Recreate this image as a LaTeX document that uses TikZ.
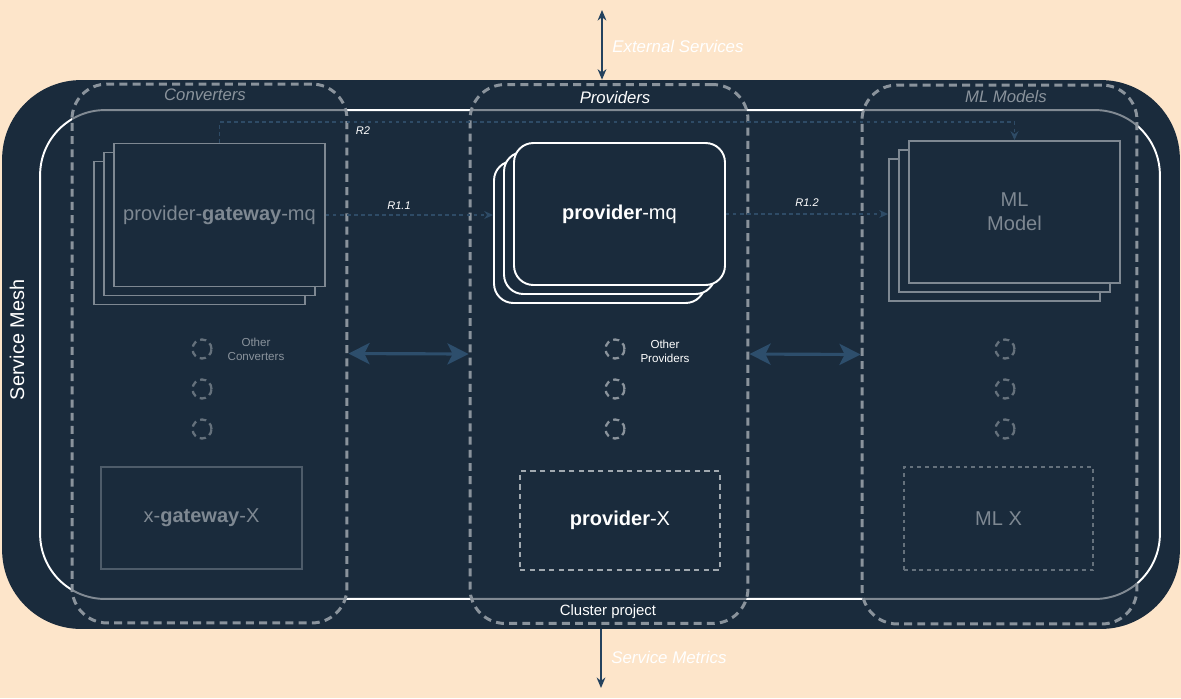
\documentclass[tikz,border=0pt]{standalone}
\usepackage{fontspec}
\setmainfont{Liberation Sans}
\usetikzlibrary{arrows.meta,positioning}
\definecolor{peach}{HTML}{FDE5CA}
\definecolor{navy}{HTML}{1A2B3C}
\definecolor{dashgrey}{HTML}{8A939C}
\definecolor{boxgrey}{HTML}{7E8892}
\definecolor{darkgrey}{HTML}{4E5C6A}
\definecolor{dimgrey}{HTML}{65717C}
\definecolor{arrowblue}{HTML}{2D4E6C}
\definecolor{linkblue}{HTML}{2E4B66}
\definecolor{extblue}{HTML}{24425E}

\begin{document}
\begin{tikzpicture}[x=0.02cm,y=-0.02cm,
  column/.style={draw=dashgrey,line width=1.7pt,dash pattern=on 4.5pt off 3pt,rounded corners=20pt,fill=navy,fill opacity=0.55,minimum width=5.5cm,minimum height=10.78cm,inner sep=0pt},
  stack/.style={draw=boxgrey,line width=1.1pt,fill=navy,minimum width=4.22cm,minimum height=2.86cm,inner sep=0pt,text=boxgrey,align=center,font=\fontsize{11.4}{13.5}\selectfont},
  pstack/.style={stack,draw=white,text=white,rounded corners=11pt,minimum height=2.84cm},
  xbox/.style={fill=navy,line width=1pt,inner sep=0pt,text=boxgrey,font=\fontsize{11.4}{13.5}\selectfont},
  circ/.style={circle,draw=#1,line width=1.3pt,dash pattern=on 3.5pt off 2.5pt,minimum size=0.38cm,inner sep=0pt},
  rlink/.style={draw=linkblue,line width=0.7pt,dash pattern=on 2pt off 2pt,-{Stealth[length=5pt,width=4.5pt]}},
  rlabel/.style={text=white,inner sep=0pt,font=\fontsize{6.3}{7}\selectfont\itshape},
  biarrow/.style={draw=arrowblue,line width=1.8pt,{Stealth[length=12pt,width=12pt,inset=3pt]}-{Stealth[length=12pt,width=12pt,inset=3pt]}},
  extarrow/.style={draw=extblue,line width=0.9pt},
  title/.style={inner sep=0pt,font=\fontsize{9.5}{11}\selectfont\itshape}
]
\useasboundingbox (0,0) rectangle (1181,698);
\fill[peach] (0,0) rectangle (1181,698);

% service mesh and cluster
\node[fill=navy,rounded corners=45pt,minimum width=23.56cm,minimum height=10.98cm,inner sep=0pt] (mesh) at (591,354.5) {};
\node[text=white,rotate=90,font=\fontsize{11.3}{13}\selectfont] (meshlabel) at (17,340) {Service Mesh};
\node[draw=white,line width=1.1pt,rounded corners=37pt,minimum width=22.4cm,minimum height=9.78cm,inner sep=0pt] (cluster) at (600,354.5) {};

% columns
\node[column] (conv) at (209.5,353.5) {};
\node[column,minimum width=5.56cm] (prov) at (609,354) {};
\node[column] (mlm) at (999.5,354.5) {};
\node[title,text=dashgrey] at (205,95) {Converters};
\node[title,text=white] at (615,98) {Providers};
\node[title,text=dashgrey] at (1006,97) {ML Models};
\node[text=white,inner sep=0pt,font=\fontsize{8.5}{10}\selectfont] (clusterlabel) at (608,612) {Cluster project};

% stacks and links
\coordinate (rtop) at (0,122);
\foreach \i in {2,1}
  \node[stack] (gw\i) at (219.5-10*\i,215+9*\i) {};
\node[stack] (gw) at (219.5,215) {provider-\textbf{gateway}-mq};
\foreach \i in {2,1}
  \node[pstack] (pmq\i) at (619.5-10*\i,214+9*\i) {};
\foreach \i in {2,1}
  \node[stack,minimum height=2.84cm] (ml\i) at (1014.5-10*\i,212+9*\i) {};
\draw[rlink] (gw.east) -- (gw.east -| pmq2.west);
\node[pstack] (pmq) at (619.5,214) {\textbf{provider}-mq};
\node[stack,minimum height=2.84cm] (ml) at (1014.5,212) {ML\\Model};
\draw[rlink] (gw.north) -- (gw.north |- rtop) -| (ml.north);
\draw[rlink] (pmq.east) -- (pmq.east -| ml2.west);
\node[rlabel] (r2) at (363,131) {R2};
\node[rlabel] (r11) at (399,206) {R1.1};
\node[rlabel] (r12) at (807,203) {R1.2};

% other instances
\foreach \y in {349,389,429} {
  \node[circ=dimgrey] (oc\y) at (202,\y) {};
  \node[circ=dashgrey] (op\y) at (615,\y) {};
  \node[circ=dimgrey] (om\y) at (1005,\y) {};
}
\node[text=dashgrey,align=center,inner sep=0pt,font=\fontsize{6.6}{8}\selectfont] (otherconv) at (256,349) {Other\\Converters};
\node[text=white,align=center,inner sep=0pt,font=\fontsize{6.6}{8}\selectfont] (otherprov) at (665,351) {Other\\Providers};

% bottom boxes
\node[xbox,draw=darkgrey,minimum width=4.02cm,minimum height=2.04cm] (gx) at (201.5,518) {x-\textbf{gateway}-X};
\node[xbox,draw=dashgrey!80!white,dash pattern=on 3pt off 2.5pt,minimum width=4cm,minimum height=1.98cm,text=white] (px) at (620,520.5) {\textbf{provider}-X};
\node[xbox,draw=dimgrey,dash pattern=on 2.2pt off 2.2pt,minimum width=3.78cm,minimum height=2.06cm] (mx) at (998.5,518.5) {ML X};

% arrows between columns
\draw[biarrow] (conv.east) -- (prov.west);
\draw[biarrow] (prov.east) -- (mlm.west);

% outside
\coordinate (ext) at (602,10);
\coordinate (met) at (601,688);
\draw[extarrow,{Stealth[length=6pt,width=5pt]}-{Stealth[length=6pt,width=5pt]}] (ext) -- (ext |- mesh.north);
\draw[extarrow,-{Stealth[length=6pt,width=5pt]}] (met |- mesh.south) -- (met);
\node[title,text=white,anchor=west,font=\fontsize{9.6}{11}\selectfont\itshape] (extlabel) at (612,46) {External Services};
\node[title,text=white,anchor=west,font=\fontsize{9.6}{11}\selectfont\itshape] (metlabel) at (611,657) {Service Metrics};
\end{tikzpicture}
\end{document}
